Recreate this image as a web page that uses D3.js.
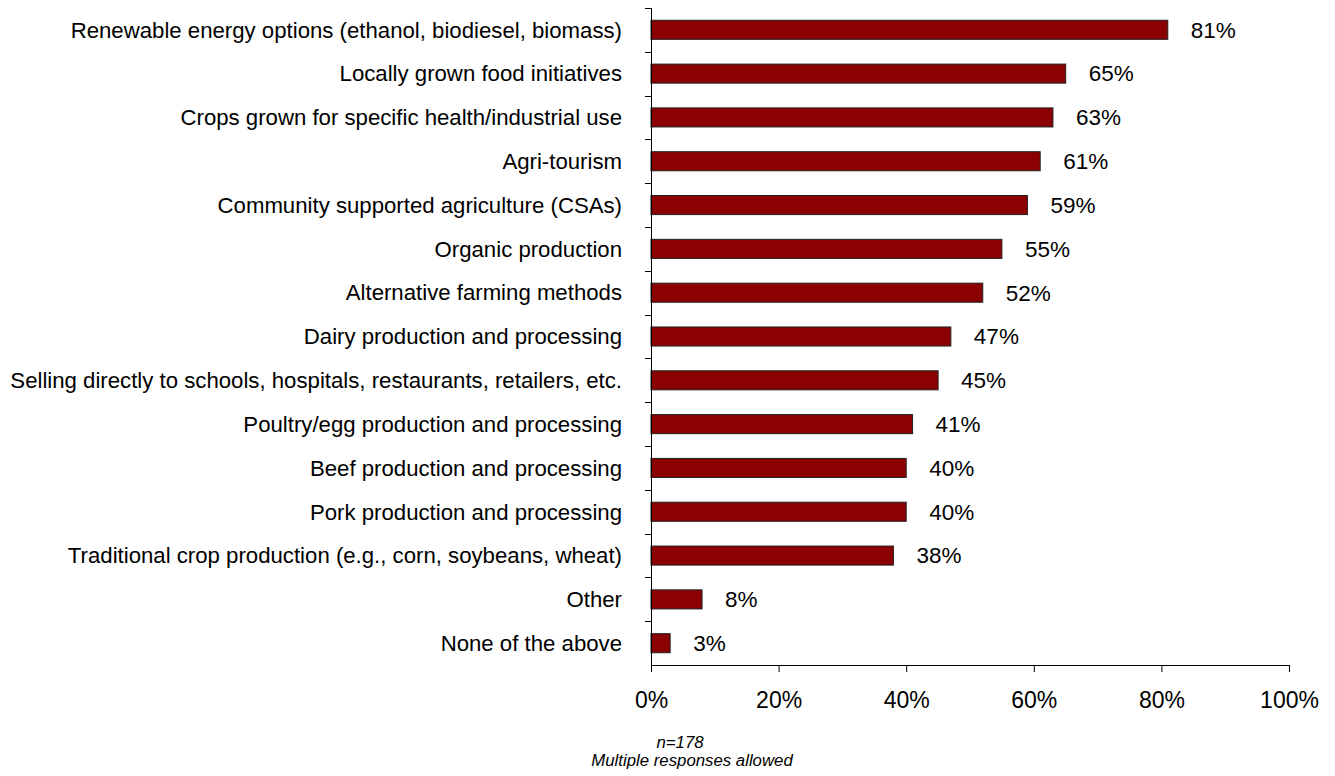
<!DOCTYPE html>
<html><head><meta charset="utf-8">
<script src="https://cdn.jsdelivr.net/npm/d3@7"></script>
<style>body{margin:0;background:#fff;} text{font-family:"Liberation Sans",Arial,sans-serif;}</style>
</head><body>
<svg id="chart" width="1335" height="776"></svg>
<script>
const categories = [
  "Renewable energy options (ethanol, biodiesel, biomass)",
  "Locally grown food initiatives",
  "Crops grown for specific health/industrial use",
  "Agri-tourism",
  "Community supported agriculture (CSAs)",
  "Organic production",
  "Alternative farming methods",
  "Dairy production and processing",
  "Selling directly to schools, hospitals, restaurants, retailers, etc.",
  "Poultry/egg production and processing",
  "Beef production and processing",
  "Pork production and processing",
  "Traditional crop production (e.g., corn, soybeans, wheat)",
  "Other",
  "None of the above"
];
const values = [81, 65, 63, 61, 59, 55, 52, 47, 45, 41, 40, 40, 38, 8, 3];
const xTicks = [0, 20, 40, 60, 80, 100];
const notes = ["n=178", "Multiple responses allowed"];

const svg = d3.select("#chart");
const mLeft = 651, mRight = 1289, mTop = 8, mBottom = 665;

const x = d3.scaleLinear().domain([0, 100]).range([mLeft, mRight]);
const y = d3.scaleBand().domain(categories).range([mTop, mBottom]).paddingInner(0.565).paddingOuter(0.28);
const yb = d3.scaleLinear().domain([0, categories.length]).range([mTop, mBottom]);

// bars
svg.append("g").selectAll("rect").data(values).join("rect")
  .attr("x", x(0))
  .attr("y", (d, i) => y(categories[i]))
  .attr("width", d => x(d) - x(0))
  .attr("height", y.bandwidth())
  .attr("fill", "#8B0000")
  .attr("stroke", "#222")
  .attr("stroke-width", 1);

// y axis line and ticks between categories
const ya = svg.append("g");
ya.append("line").attr("x1", mLeft + 0.5).attr("x2", mLeft + 0.5).attr("y1", mTop).attr("y2", mBottom).attr("stroke", "#000");
ya.selectAll("line.t").data(d3.range(categories.length)).join("line").attr("class", "t")
  .attr("x1", mLeft - 6).attr("x2", mLeft)
  .attr("y1", d => Math.round(yb(d)) + 0.5).attr("y2", d => Math.round(yb(d)) + 0.5)
  .attr("stroke", "#000");

// category labels
svg.append("g").selectAll("text").data(categories).join("text")
  .attr("x", 622)
  .attr("y", d => y(d) + y.bandwidth() / 2)
  .attr("dy", "0.35em")
  .attr("text-anchor", "end")
  .attr("font-size", 22.2)
  .attr("fill", "#000")
  .text(d => d);

// value labels
svg.append("g").selectAll("text").data(values).join("text")
  .attr("x", d => x(d) + 23)
  .attr("y", (d, i) => y(categories[i]) + y.bandwidth() / 2)
  .attr("dy", "0.35em")
  .attr("font-size", 22.5)
  .attr("fill", "#000")
  .text(d => d + "%");

// x axis
const xAxis = d3.axisBottom(x).tickValues(xTicks).tickFormat(d => d + "%").tickSize(7).tickPadding(20);
const xg = svg.append("g").attr("transform", `translate(0,${mBottom})`).call(xAxis);
xg.select(".domain").attr("stroke", "#000");
xg.selectAll(".tick line").attr("stroke", "#000");
xg.selectAll(".tick text").attr("font-size", 23).attr("fill", "#000")
  .attr("font-family", '"Liberation Sans",Arial,sans-serif');

// footnotes
const noteX = [680, 692];
svg.append("g").selectAll("text").data(notes).join("text")
  .attr("x", (d, i) => noteX[i])
  .attr("y", (d, i) => 748 + i * 18)
  .attr("text-anchor", "middle")
  .attr("font-size", 16.8)
  .attr("font-style", "italic")
  .attr("fill", "#000")
  .text(d => d);
</script>
</body></html>
